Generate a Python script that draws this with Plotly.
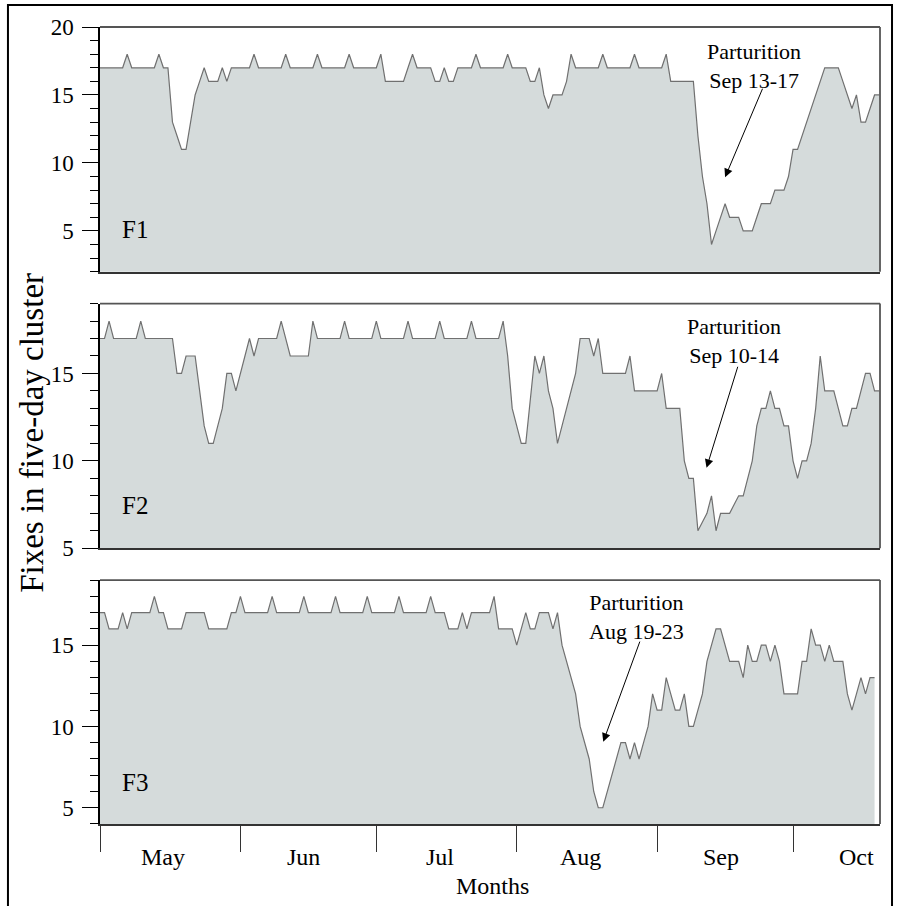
import plotly.graph_objects as go

# Daily values, day 0 = May 1
f1 = [17,17,17,17,17,17,18,17,17,17,
      17,17,17,18,17,17,13,12,11,11,
      13,15,16,17,16,16,16,17,16,17,
      17,17,17,17,18,17,17,17,17,17,
      17,18,17,17,17,17,17,17,18,17,
      17,17,17,17,17,18,17,17,17,17,
      17,17,18,16,16,16,16,16,17,18,
      17,17,17,17,16,16,17,16,16,17,
      17,17,17,18,17,17,17,17,17,17,
      18,17,17,17,17,16,16,17,15,14,
      15,15,15,16,18,17,17,17,17,17,
      17,18,17,17,17,17,17,17,18,17,
      17,17,17,17,17,18,16,16,16,16,
      16,16,12,9,7,4,5,6,7,6,
      6,6,5,5,5,6,7,7,7,8,
      8,8,9,11,11,12,13,14,15,16,
      17,17,17,17,16,15,14,15,13,13,
      14,15,15]

f2 = [17,17,18,17,17,17,17,17,17,18,
      17,17,17,17,17,17,17,15,15,16,
      16,16,14,12,11,11,12,13,15,15,
      14,15,16,17,16,17,17,17,17,17,
      18,17,16,16,16,16,16,18,17,17,
      17,17,17,17,18,17,17,17,17,17,
      17,18,17,17,17,17,17,17,18,17,
      17,17,17,17,17,18,17,17,17,17,
      17,17,18,17,17,17,17,17,17,18,
      16,13,12,11,11,13.5,16,15,16,14,
      13,11,12,13,14,15,17,17,17,16,
      17,15,15,15,15,15,15,16,14,14,
      14,14,14,14,15,13,13,13,13,10,
      9,9,6,6.5,7,8,6,7,7,7,
      7.5,8,8,9,10,12,13,13,14,13,
      13,12,12,10,9,10,10,11,13,16,
      14,14,14,13,12,12,13,13,14,15,
      15,14,14]

f3 = [17,17,16,16,16,17,16,17,17,17,
      17,17,18,17,17,16,16,16,16,17,
      17,17,17,17,16,16,16,16,16,17,
      17,18,17,17,17,17,17,17,18,17,
      17,17,17,17,17,18,17,17,17,17,
      17,17,18,17,17,17,17,17,17,18,
      17,17,17,17,17,17,18,17,17,17,
      17,17,17,18,17,17,17,16,16,16,
      17,16,17,17,17,17,17,18,16,16,
      16,16,15,16,17,16,16,17,17,17,
      16,17,15,14,13,12,10,9,8,6,
      5,5,6,7,8,9,9,8,9,8,
      9,10,12,11,11,13,12,11,11,12,
      10,10,11,12,14,15,16,16,15,14,
      14,14,13,15,14,14,15,15,14,15,
      14,12,12,12,12,14,14,16,15,15,
      14,15,14,14,14,12,11,12,13,12,
      13,13]

month_starts = [0, 31, 61, 92, 123, 153]
month_mid = [14, 45, 75, 106, 137, 167]
month_labels = ["May", "Jun", "Jul", "Aug", "Sep", "Oct"]
panel_names = ["F1", "F2", "F3"]
part_text = ["Parturition<br>Sep 13-17", "Parturition<br>Sep 10-14", "Parturition<br>Aug 19-23"]

FONT = "Liberation Serif"
series = [f1, f2, f3]
yranges = [[2, 20], [5, 19], [4, 19]]
ytickv = [[5, 10, 15, 20], [5, 10, 15], [5, 10, 15]]
domains = [[0.693, 1.0], [0.346, 0.653], [0.0, 0.306]]
XMAX = 172.2

fig = go.Figure()
for i, s in enumerate(series):
    n = i + 1
    fig.add_trace(go.Scatter(
        x=list(range(len(s))), y=s, mode="lines",
        line=dict(color="#707070", width=1.2),
        fill="tozeroy", fillcolor="#d5dbdb",
        xaxis="x" if n == 1 else f"x{n}", yaxis="y" if n == 1 else f"y{n}",
        showlegend=False, hoverinfo="skip"))

layout = dict(
    width=901, height=906,
    margin=dict(l=100, r=21, t=27, b=82),
    paper_bgcolor="white", plot_bgcolor="white",
    font=dict(family=FONT, size=22, color="black"),
    showlegend=False,
)
for i in range(3):
    n = i + 1
    xk = "xaxis" if n == 1 else f"xaxis{n}"
    yk = "yaxis" if n == 1 else f"yaxis{n}"
    ya = "y" if n == 1 else f"y{n}"
    xa = "x" if n == 1 else f"x{n}"
    xa_def = dict(range=[0, XMAX], domain=[0, 1], anchor=ya,
                  showgrid=False, zeroline=False, showline=True,
                  linecolor="#333333", linewidth=1.5, showticklabels=False,
                  fixedrange=True)
    if n == 3:
        xa_def.update(tickmode="array", tickvals=month_starts, ticks="outside",
                      ticklen=26, tickcolor="#333333", tickwidth=1)
    else:
        xa_def.update(ticks="")
    layout[xk] = xa_def
    layout[yk] = dict(range=yranges[i], domain=domains[i], anchor=xa,
                      tickmode="array", tickvals=ytickv[i], ticks="outside",
                      ticklen=16, tickcolor="black", tickwidth=1,
                      minor=dict(dtick=1, tick0=0, ticks="outside", ticklen=8,
                                 tickcolor="black", tickwidth=1),
                      showgrid=False, zeroline=False, showline=True,
                      linecolor="black", linewidth=1.5,
                      tickfont=dict(family=FONT, size=23, color="black"),
                      ticklabelstandoff=4, fixedrange=True)
fig.update_layout(**layout)

shapes = []
for i in range(3):
    n = i + 1
    xr = "x domain" if n == 1 else f"x{n} domain"
    yr = "y domain" if n == 1 else f"y{n} domain"
    shapes.append(dict(type="line", xref=xr, yref=yr, x0=0, x1=1, y0=1, y1=1,
                       line=dict(color="#555555", width=1.8)))
    shapes.append(dict(type="line", xref=xr, yref=yr, x0=1, x1=1, y0=0, y1=1,
                       line=dict(color="#555555", width=1.8)))
# outer frame
shapes.append(dict(type="rect", xref="paper", yref="paper",
                   x0=-0.118, x1=1.0154, y0=-0.12, y1=1.0276,
                   line=dict(color="black", width=2), fillcolor="rgba(0,0,0,0)"))
fig.update_layout(shapes=shapes)

ann = []
label_y = [0.174, 0.173, 0.169]
for i in range(3):
    n = i + 1
    xr = "x domain" if n == 1 else f"x{n} domain"
    yr = "y domain" if n == 1 else f"y{n} domain"
    ann.append(dict(text=panel_names[i], xref=xr, yref=yr, x=0.0256, y=label_y[i],
                    xanchor="left", yanchor="middle", showarrow=False,
                    font=dict(family=FONT, size=25, color="black")))

# parturition labels and arrows (data coords)
txt_pos = [(144.4, 17.1), (140.0, 16.85), (118.5, 16.74)]
arr = [((146.4, 15.57), (138.0, 8.95)),
       ((140.9, 15.47), (133.9, 9.6)),
       ((119.3, 15.31), (111.1, 9.06))]
for i in range(3):
    n = i + 1
    xa = "x" if n == 1 else f"x{n}"
    ya = "y" if n == 1 else f"y{n}"
    ann.append(dict(text=part_text[i], xref=xa, yref=ya, x=txt_pos[i][0], y=txt_pos[i][1],
                    xanchor="center", yanchor="middle", showarrow=False, align="center",
                    font=dict(family=FONT, size=22, color="black")))
    (tx, ty), (hx, hy) = arr[i]
    ann.append(dict(text="", xref=xa, yref=ya, x=hx, y=hy, axref=xa, ayref=ya,
                    ax=tx, ay=ty, showarrow=True, arrowhead=2, arrowsize=1.7,
                    arrowwidth=1, arrowcolor="black"))

for m, lab in zip(month_mid, month_labels):
    ann.append(dict(text=lab, xref="x3", yref="paper", x=m, y=-0.0414,
                    xanchor="center", yanchor="middle", showarrow=False,
                    font=dict(family=FONT, size=24, color="black")))
ann.append(dict(text="Months", xref="paper", yref="paper", x=0.5026, y=-0.0778,
                xanchor="center", yanchor="middle", showarrow=False,
                font=dict(family=FONT, size=24, color="black")))
ann.append(dict(text="Fixes in five-day cluster", xref="paper", yref="paper",
                x=-0.087, y=0.491, textangle=-90, xanchor="center", yanchor="middle",
                showarrow=False, font=dict(family=FONT, size=33, color="black")))
fig.update_layout(annotations=ann)

fig.write_html("out.html")
